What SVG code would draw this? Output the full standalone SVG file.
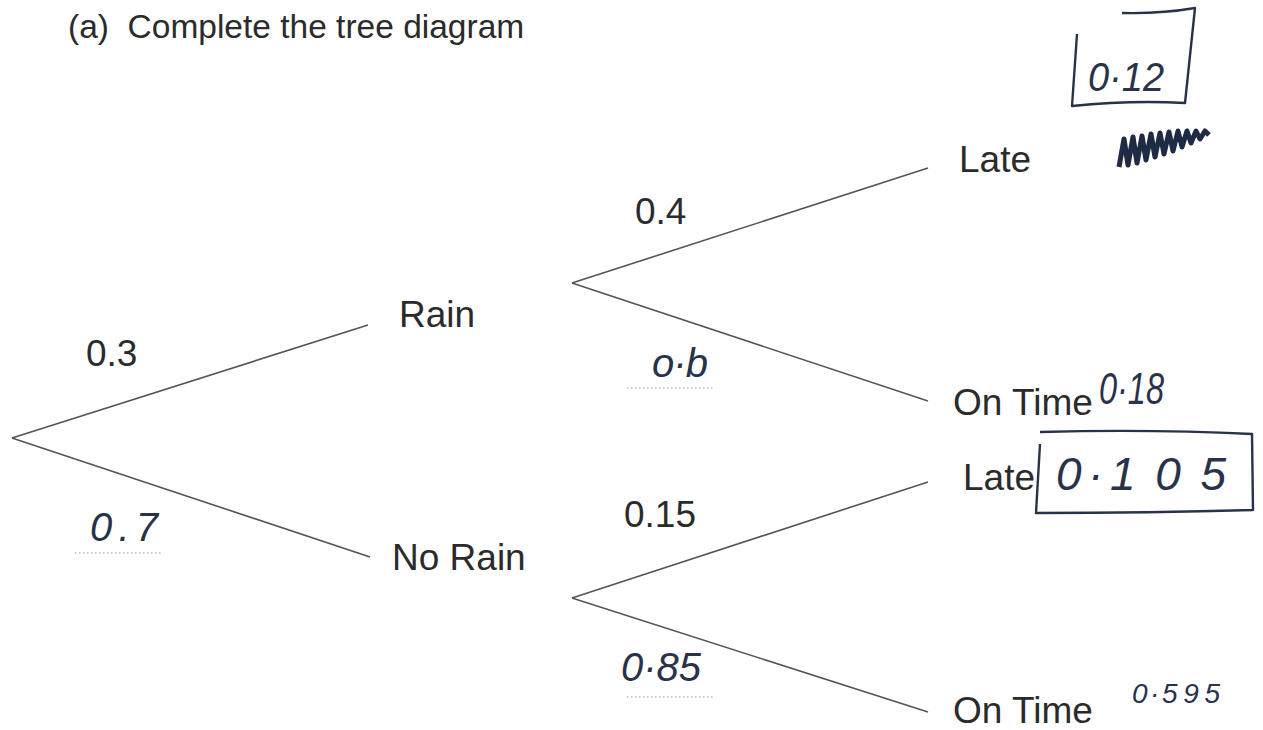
<svg xmlns="http://www.w3.org/2000/svg" width="1263" height="730" viewBox="0 0 1263 730">
<style>
.t{font-family:"Liberation Sans",Arial,sans-serif;font-size:37px;fill:#2b2b2b}
.h{font-family:"Liberation Sans",Arial,sans-serif;font-style:italic;fill:#28324a}
.e{stroke:#555;stroke-width:1.6;fill:none}
.d{stroke:#9aa0a8;stroke-width:1.2;stroke-dasharray:1.5 2.5;fill:none}
.b{stroke:#28324a;stroke-width:2.4;fill:none;stroke-linejoin:round}
</style>
<rect width="1263" height="730" fill="#fff"/>
<text class="t" x="68" y="38" style="font-size:33.5px" xml:space="preserve">(a)  Complete the tree diagram</text>
<g id="connectors">
<line class="e" x1="12" y1="438" x2="368" y2="325"/>
<line class="e" x1="12" y1="438" x2="370" y2="557"/>
<line class="e" x1="572" y1="283" x2="928" y2="168"/>
<line class="e" x1="572" y1="283" x2="928" y2="401"/>
<line class="e" x1="572" y1="598" x2="928" y2="482"/>
<line class="e" x1="572" y1="598" x2="928" y2="712"/>
<text class="t" x="86" y="366">0.3</text>
<text class="h" x="90" y="541" font-size="40" textLength="68" lengthAdjust="spacing">0.7</text>
<line class="d" x1="75" y1="553" x2="162" y2="553"/>
<text class="t" x="635" y="224">0.4</text>
<text class="h" x="652" y="377" font-size="40" textLength="56" lengthAdjust="spacing">o·b</text>
<line class="d" x1="627" y1="388" x2="713" y2="388"/>
<text class="t" x="624" y="527">0.15</text>
<text class="h" x="621" y="681" font-size="40" textLength="80" lengthAdjust="spacingAndGlyphs">0·85</text>
<line class="d" x1="627" y1="697" x2="713" y2="697"/>
</g>
<g id="rain"><text class="t" x="399" y="327">Rain</text></g>
<g id="norain"><text class="t" x="392" y="570">No Rain</text></g>
<g id="late1">
<text class="t" x="959" y="172">Late</text>
<path class="b" d="M1077,34 L1072,106 Q1130,100 1185,103 L1195,8 Q1160,14 1122,13"/>
<text class="h" x="1088" y="91" font-size="40" textLength="76" lengthAdjust="spacingAndGlyphs">0·12</text>
<path d="M1119,167 l5,-28 l4,26 l5,-28 l4,26 l5,-27 l4,24 l5,-26 l4,23 l5,-24 l4,21 l5,-22 l4,19 l5,-20 l4,16 l5,-16 l4,12 l5,-12 l4,8 l5,-8 l4,4" stroke="#1f2a44" stroke-width="5" fill="none" stroke-linejoin="round"/>
</g>
<g id="ontime1">
<text class="t" x="953" y="415">On Time</text>
<text class="h" x="1099" y="404" font-size="44" textLength="65" lengthAdjust="spacingAndGlyphs">0·18</text>
</g>
<g id="late2">
<text class="t" x="963" y="490">Late</text>
<path class="b" d="M1040,432 Q1150,429 1252,434 L1253,510 Q1150,513 1036,513 L1040,444"/>
<text class="h" y="490" font-size="46"><tspan x="1056">0</tspan><tspan x="1088">·</tspan><tspan x="1110" textLength="116" lengthAdjust="spacing">105</tspan></text>
</g>
<g id="ontime2">
<text class="t" x="953" y="723">On Time</text>
<text class="h" y="703" font-size="28"><tspan x="1132">0</tspan><tspan x="1150">·</tspan><tspan x="1162" textLength="58" lengthAdjust="spacing">595</tspan></text>
</g>
</svg>
